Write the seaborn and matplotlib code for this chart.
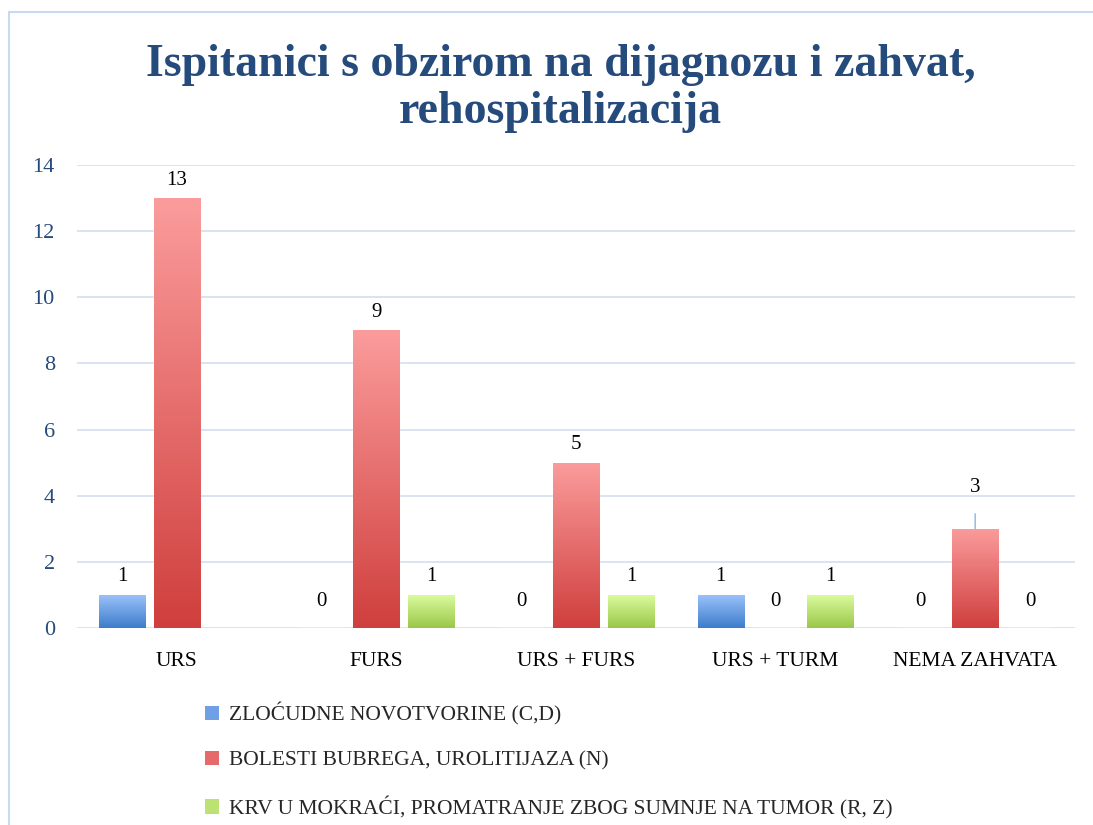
import numpy as np
import pandas as pd
import matplotlib
matplotlib.use("Agg")
import matplotlib.pyplot as plt
from matplotlib.patches import Rectangle, Patch
from matplotlib.colors import LinearSegmentedColormap
import seaborn as sns

# Data (no value shown for KRV U MOKRACI at URS)
zahvati = ["URS", "FURS", "URS + FURS", "URS + TURM", "NEMA ZAHVATA"]
dijagnoze = ["ZLOĆUDNE NOVOTVORINE (C,D)",
             "BOLESTI BUBREGA, UROLITIJAZA (N)",
             "KRV U MOKRAĆI, PROMATRANJE ZBOG SUMNJE NA TUMOR (R, Z)"]
zlocudne = [1, 0, 0, 1, 0]
bolesti_bubrega = [13, 9, 5, 0, 3]
krv_u_mokraci = [np.nan, 1, 1, 1, 0]

# colours: (top, bottom) of the gradient
grad = [("#9DC3FB", "#3D7CCB"), ("#FB9C9C", "#CF3F3D"), ("#DCFC9E", "#9AC74A")]
mid = ["#6FA0E6", "#E56A69", "#BCE274"]

df = pd.DataFrame({
    "zahvat": zahvati * 3,
    "dijagnoza": [d for d in dijagnoze for _ in zahvati],
    "n": zlocudne + bolesti_bubrega + krv_u_mokraci,
})

sns.set_style("white")
plt.rcParams["font.family"] = ["Liberation Serif", "DejaVu Serif"]

fig = plt.figure(figsize=(10.93, 8.25), dpi=100)
ax = fig.add_axes([0.0705, 0.2388, 0.913, 0.5612])

sns.barplot(data=df, x="zahvat", y="n", hue="dijagnoza", hue_order=dijagnoze,
            palette=mid, width=0.825, gap=0.16, legend=False, ax=ax)

ax.set_ylim(0, 14)
ax.set_yticks(range(0, 15, 2))

# gradient fill for each bar
for cont, (top, bot) in zip(ax.containers, grad):
    cmap = LinearSegmentedColormap.from_list("g", [bot, top])
    for p in cont.patches:
        x, w, h = p.get_x(), p.get_width(), p.get_height()
        if not h > 0:
            continue
        im = ax.imshow(np.linspace(0, 1, 256).reshape(-1, 1), cmap=cmap,
                       origin="lower", extent=[x, x + w, 0, h],
                       aspect="auto", zorder=p.get_zorder() + 0.1)
        im.set_clip_path(p)
ax.set_xlim(-0.5, 4.5)
ax.set_ylim(0, 14)

# value labels
for cont in ax.containers:
    for p in cont.patches:
        h = p.get_height()
        if np.isnan(h):
            continue
        xc = p.get_x() + p.get_width() / 2
        if h == 3:
            ax.annotate(f"{h:.0f}", xy=(xc, h), xytext=(0, 30),
                        textcoords="offset points", ha="center", va="center",
                        fontsize=15, color="black",
                        arrowprops=dict(arrowstyle="-", color="#8DB3E2", lw=1,
                                        shrinkA=10, shrinkB=0))
        else:
            off = 13 if h > 0 else 19
            ax.annotate(f"{h:.0f}", xy=(xc, h), xytext=(0, off),
                        textcoords="offset points", ha="center", va="center",
                        fontsize=15, color="black")

ax.yaxis.grid(True, color="#D5E0F0", lw=1.3)
ax.set_axisbelow(True)
for s in ax.spines.values():
    s.set_visible(False)
ax.tick_params(axis="both", length=0)
ax.tick_params(axis="y", labelsize=16, labelcolor="#254A7C", pad=16)
ax.tick_params(axis="x", labelsize=15.5, labelcolor="black", pad=17)
ax.set_xlabel("")
ax.set_ylabel("")

fig.text(0.513, 0.893, "Ispitanici s obzirom na dijagnozu i zahvat,\nrehospitalizacija",
         ha="center", va="center", fontsize=33, fontweight="bold",
         color="#254A7C", linespacing=1.15)

handles = [Patch(facecolor=c, edgecolor="none") for c in mid]
fig.legend(handles, dijagnoze, loc="upper left", bbox_to_anchor=(0.180, 0.159),
           frameon=False, fontsize=15.5, handlelength=0.65, handleheight=0.65,
           handletextpad=0.45, labelspacing=1.18, borderaxespad=0)

# outer chart frame
fig.patches.append(Rectangle((0.0082, -0.02), 1.1, 0.9855 + 0.02,
                             transform=fig.transFigure, fill=False,
                             edgecolor="#C9DAF0", lw=1.5))

fig.savefig("out.png", dpi=100)
